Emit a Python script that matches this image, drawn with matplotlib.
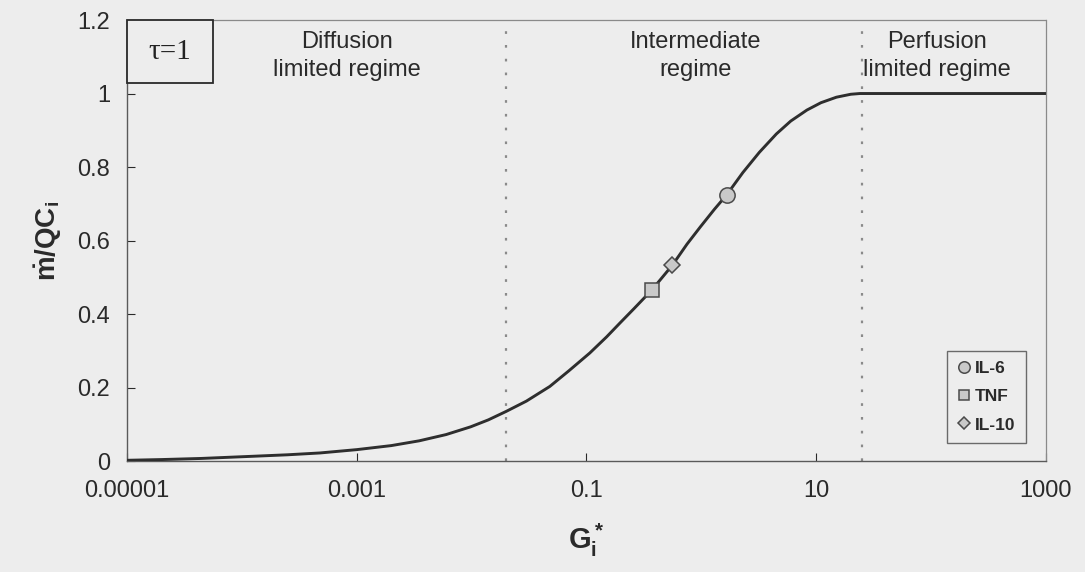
import numpy as np
import matplotlib.pyplot as plt
from matplotlib.patches import Rectangle

plt.rcParams['font.family'] = ['Liberation Sans', 'DejaVu Sans']
plt.rcParams['mathtext.fontset'] = 'custom'
plt.rcParams['mathtext.rm'] = 'Liberation Sans'
plt.rcParams['mathtext.bf'] = 'Liberation Sans:bold'

# curve (tau = 1)
g_curve = [1e-5, 2e-5, 4.4e-5, 1.26e-4, 2.5e-4, 4.8e-4, 1e-3, 2e-3, 3.5e-3, 6e-3,
           9.8e-3, 0.014, 0.02, 0.03, 0.048, 0.07, 0.107, 0.15, 0.195, 0.26, 0.37,
           0.56, 0.75, 0.98, 1.3, 1.66, 2.3, 3.2, 4.5, 6, 8.3, 11, 15, 20, 24, 1000]
m_curve = [0.002, 0.004, 0.007, 0.013, 0.017, 0.022, 0.031, 0.042, 0.055, 0.072,
           0.093, 0.112, 0.135, 0.163, 0.203, 0.245, 0.294, 0.338, 0.375, 0.415, 0.465,
           0.533, 0.59, 0.637, 0.685, 0.724, 0.785, 0.84, 0.89, 0.925, 0.955, 0.975,
           0.99, 0.998, 1.0, 1.0]

# cytokines
cyto_names = ['IL-6', 'TNF', 'IL-10']
cyto_g = [1.66, 0.37, 0.56]
cyto_m = [0.724, 0.465, 0.533]
cyto_mk = ['o', 's', 'D']
cyto_ms = [11, 10, 8.5]

regime_bounds = [0.02, 25]
regime_text = ['Diffusion\nlimited regime', 'Intermediate\nregime', 'Perfusion\nlimited regime']
regime_x = [8.2e-4, 0.9, 112]

xticks = [1e-5, 1e-3, 0.1, 10, 1000]
xlabels = ['0.00001', '0.001', '0.1', '10', '1000']
yticks = [0, 0.2, 0.4, 0.6, 0.8, 1, 1.2]
ylabels = ['0', '0.2', '0.4', '0.6', '0.8', '1', '1.2']

bg = '#ededed'
fig = plt.figure(figsize=(10.85, 5.72), dpi=100, facecolor=bg)
ax = fig.add_axes([0.117, 0.194, 0.847, 0.771], facecolor=bg)

ax.plot(g_curve, m_curve, color='#2e2e2e', lw=2.1, zorder=3, solid_joinstyle='round')
for n, g, m, mk, ms in zip(cyto_names, cyto_g, cyto_m, cyto_mk, cyto_ms):
    ax.plot(g, m, linestyle='none', marker=mk, ms=ms, mfc='#c9c9c9', mec='#4a4a4a',
            mew=1.1, label=n, zorder=4)

for b in regime_bounds:
    ax.axvline(b, color='#8a8a8a', lw=1.6, ls=(0, (1.2, 5)), zorder=2)

for t, x in zip(regime_text, regime_x):
    ax.text(x, 1.102, t, ha='center', va='center', fontsize=17, color='#2a2a2a',
            linespacing=1.3)

ax.set_xscale('log')
ax.set_xlim(1e-5, 1000)
ax.set_ylim(0, 1.2)
ax.set_xticks(xticks)
ax.set_xticklabels(xlabels)
ax.xaxis.set_minor_locator(plt.NullLocator())
ax.set_yticks(yticks)
ax.set_yticklabels(ylabels)
ax.tick_params(direction='in', labelsize=17, colors='#2a2a2a', length=6, pad=14)
ax.tick_params(axis='y', pad=12)

for s in ['top', 'right']:
    ax.spines[s].set_linestyle((0, (1, 1)))
    ax.spines[s].set_color('#8a8a8a')
    ax.spines[s].set_linewidth(0.9)
for s in ['left', 'bottom']:
    ax.spines[s].set_color('#5a5a5a')
    ax.spines[s].set_linewidth(1.0)

ax.add_patch(Rectangle((0, 0.857), 0.094, 0.143, transform=ax.transAxes,
                       facecolor=bg, edgecolor='#2a2a2a', lw=1.3, zorder=5, clip_on=False))
ax.text(0.047, 0.928, 'τ=1', transform=ax.transAxes, ha='center', va='center',
        fontsize=21, family=['Liberation Serif', 'DejaVu Serif'], color='#222222', zorder=6)

ax.set_xlabel(r'$\mathbf{G_i^*}$', fontsize=21, color='#2a2a2a', labelpad=14)
ax.set_ylabel(r'$\mathbf{\dot{m}/QC_i}$', fontsize=20, color='#2a2a2a', labelpad=10)

leg = ax.legend(loc='lower right', bbox_to_anchor=(0.978, 0.041), borderaxespad=0,
                markerscale=0.75, handlelength=0.7, handletextpad=0.3,
                labelspacing=0.75, borderpad=0.6, fancybox=False, framealpha=1,
                facecolor=bg, edgecolor='#6a6a6a', prop={'weight': 'bold', 'size': 12.5})
for t in leg.get_texts():
    t.set_color('#2a2a2a')

fig.savefig('out.png', dpi=100, facecolor=bg)
